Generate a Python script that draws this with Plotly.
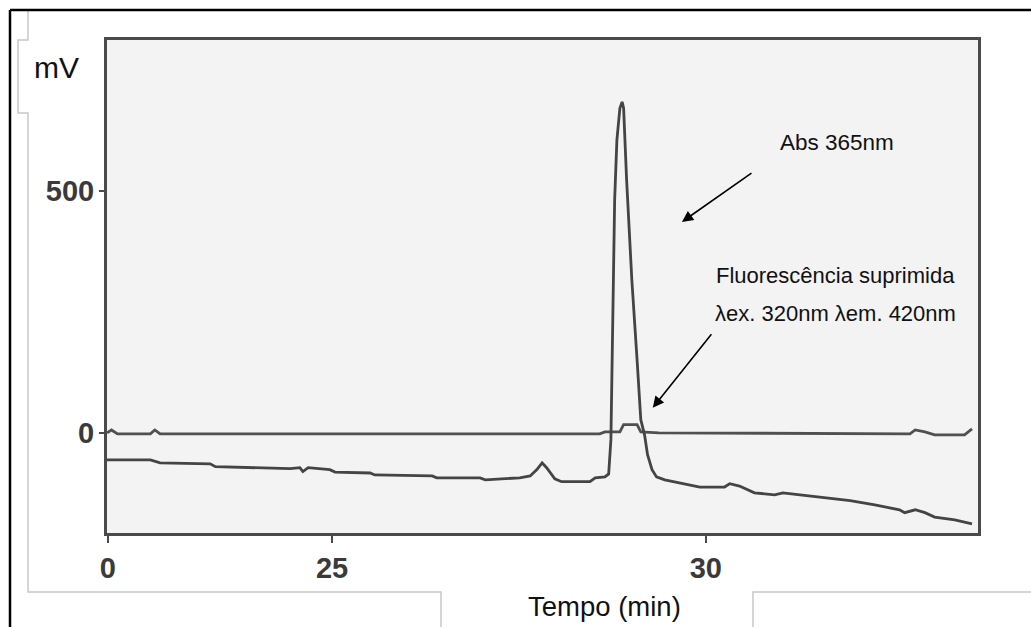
import plotly.graph_objects as go

# ---- data (time in min, signal in mV) ----
abs_t = [21.99, 22.57, 22.70, 23.37, 23.44, 24.44, 24.57, 24.61, 24.68, 24.97, 25.04, 25.51, 25.57,
         26.34, 26.40, 26.98, 27.05, 27.51, 27.65, 27.74, 27.81, 27.87, 27.98, 28.07, 28.45, 28.52,
         28.65, 28.70, 28.73, 28.76, 28.78, 28.81, 28.85, 28.88, 28.90, 28.94, 29.01, 29.08, 29.13,
         29.18, 29.22, 29.28, 29.34, 29.45, 29.65, 29.92, 30.25, 30.32, 30.45, 30.65, 30.92, 31.03,
         31.26, 31.72, 31.93, 32.26, 32.59, 32.66, 32.80, 32.93, 33.06, 33.33, 33.56]
abs_mv = [-56, -56, -62, -64, -70, -74, -72, -80, -72, -76, -81, -83, -87,
          -89, -93, -93, -97, -93, -89, -76, -62, -72, -95, -101, -101, -93,
          -91, -85, -14, 275, 481, 605, 671, 684, 671, 523, 316, 151, 27,
          -4, -45, -76, -91, -97, -103, -112, -112, -105, -110, -124, -128, -124,
          -128, -136, -140, -149, -159, -165, -159, -165, -174, -180, -188]

flu_t = [21.99, 22.05, 22.13, 22.57, 22.63, 22.70, 28.58, 28.65, 28.85, 28.90, 29.08, 29.13,
         29.37, 32.73, 32.80, 32.93, 33.06, 33.46, 33.56]
flu_mv = [0, 6, -2, -2, 6, -2, -2, 2, 2, 17, 17, 2, 0, -2, 6, 2, -4, -4, 8]

x_tickvals = [22, 25, 30]
x_ticktext = ["0", "25", "30"]
y_tickvals = [0, 500]
y_ticktext = ["0", "500"]

label_abs = "Abs 365nm"
label_flu1 = "Fluorescência suprimida"
label_flu2 = "λex. 320nm λem. 420nm"

# ---- layout geometry ----
W, H = 1031, 627
L, R, T, B = 107, 978, 40, 533


def px(x):
    return (x - L) / (R - L)


def py(y):
    return (B - y) / (B - T)


line_col = "#444444"
fig = go.Figure()
fig.add_trace(go.Scatter(x=flu_t, y=flu_mv, mode="lines",
                         line=dict(color="#505050", width=2.8), showlegend=False))
fig.add_trace(go.Scatter(x=abs_t, y=abs_mv, mode="lines",
                         line=dict(color=line_col, width=2.8), showlegend=False))

tick_font = dict(family="Liberation Sans Narrow, Liberation Sans, Arial, sans-serif",
                 weight="bold", size=29, color="#3a3a3a")

fig.update_xaxes(range=[21.99, 33.64], tickvals=x_tickvals, ticktext=x_ticktext,
                 showgrid=False, zeroline=False, showline=True, mirror=True,
                 linecolor="#4a4a4a", linewidth=3, ticks="outside", ticklen=7,
                 tickwidth=2, tickcolor="#4a4a4a", tickfont=tick_font)
fig.update_yaxes(range=[-207, 812], tickvals=y_tickvals, ticktext=y_ticktext,
                 showgrid=False, zeroline=False, showline=True, mirror=True,
                 linecolor="#4a4a4a", linewidth=3, ticks="outside", ticklen=5,
                 tickwidth=2, tickcolor="#4a4a4a", tickfont=tick_font,
                 ticklabelstandoff=-1)

text_font = dict(family="Liberation Sans, Arial, sans-serif", size=22, color="#111111")
annotations = [
    dict(x=31.75, y=601, xref="x", yref="y", text=label_abs, showarrow=False,
         font=dict(family="Liberation Sans, Arial, sans-serif", size=22.5, color="#111111"),
         xanchor="center", yanchor="middle"),
    dict(x=31.74, y=326, xref="x", yref="y", text=label_flu1, showarrow=False,
         font=text_font, xanchor="center", yanchor="middle"),
    dict(x=31.74, y=246, xref="x", yref="y", text=label_flu2, showarrow=False,
         font=text_font, xanchor="center", yanchor="middle"),
    dict(x=29.68, y=436, ax=30.63, ay=539, xref="x", yref="y", axref="x", ayref="y",
         text="", showarrow=True, arrowhead=2, arrowsize=1.4, arrowwidth=1.6,
         arrowcolor="#000000"),
    dict(x=29.29, y=52, ax=30.09, ay=207, xref="x", yref="y", axref="x", ayref="y",
         text="", showarrow=True, arrowhead=2, arrowsize=1.4, arrowwidth=1.6,
         arrowcolor="#000000"),
    dict(x=px(56), y=py(67), xref="paper", yref="paper", text="mV", showarrow=False,
         font=dict(family="Liberation Sans, Arial, sans-serif", size=30, color="#111111"),
         xanchor="center", yanchor="middle"),
    dict(x=px(604), y=py(606), xref="paper", yref="paper", text="Tempo (min)",
         showarrow=False,
         font=dict(family="Liberation Sans, Arial, sans-serif", size=27.5, color="#111111"),
         xanchor="center", yanchor="middle"),
]

grey_path = "M {} {} L {} {} L {} {} L {} {} L {} {} L {} {} L {} {} L {} {}".format(
    px(28), py(11), px(28), py(40), px(18), py(40), px(18), py(113),
    px(28), py(113), px(28), py(592), px(441), py(592), px(441), py(627))
grey_path2 = "M {} {} L {} {} L {} {}".format(
    px(753), py(627), px(753), py(592), px(1031), py(592))
shapes = [
    dict(type="path", path=grey_path, xref="paper", yref="paper",
         line=dict(color="#c8c8c8", width=1.5), layer="below"),
    dict(type="path", path=grey_path2, xref="paper", yref="paper",
         line=dict(color="#c8c8c8", width=1.5), layer="below"),
    dict(type="line", x0=px(10), y0=py(10), x1=px(1031), y1=py(10), xref="paper",
         yref="paper", line=dict(color="#000000", width=2.5)),
    dict(type="line", x0=px(10), y0=py(10), x1=px(10), y1=py(627), xref="paper",
         yref="paper", line=dict(color="#000000", width=2.5)),
]

fig.update_layout(width=W, height=H, margin=dict(l=L, r=W - R, t=T, b=H - B),
                  paper_bgcolor="#ffffff", plot_bgcolor="#f3f3f3",
                  annotations=annotations, shapes=shapes, showlegend=False)

fig.write_html("out.html")
